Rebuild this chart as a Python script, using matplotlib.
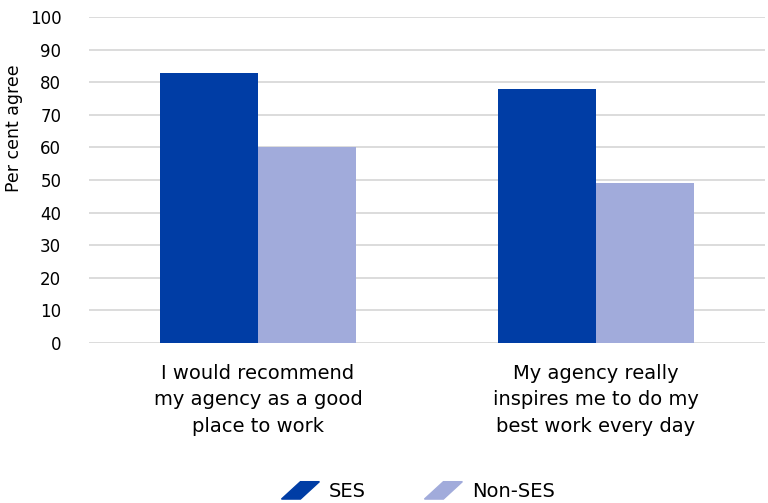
import numpy as np
import matplotlib.pyplot as plt
from matplotlib.patches import Polygon, Patch
from matplotlib.legend_handler import HandlerPatch

plt.rcParams['font.family'] = ['DejaVu Sans']

# Data
categories = ['I would recommend\nmy agency as a good\nplace to work',
              'My agency really\ninspires me to do my\nbest work every day']
ses = [83, 78]
non_ses = [60, 49]
series_names = ['SES', 'Non-SES']
colors = ['#003DA5', '#A1ABDB']


# skewed legend marker, like the original
def parallelogram(legend, orig_handle, xdescent, ydescent, width, height, fontsize):
    s = width * 0.5
    pts = [[-xdescent, -ydescent], [-xdescent + width - s, -ydescent],
           [-xdescent + width, -ydescent + height], [-xdescent + s, -ydescent + height]]
    return Polygon(pts, closed=True)


fig = plt.figure(figsize=(7.68, 5.03), dpi=100)
ax = fig.add_axes([0.116, 0.318, 0.88, 0.648])

x = np.arange(len(categories))
w = 0.29
ax.bar(x - w / 2, ses, w, color=colors[0], zorder=3)
ax.bar(x + w / 2, non_ses, w, color=colors[1], zorder=3)

ax.set_xlim(-0.5, 1.5)
ax.set_ylim(0, 100)
ax.set_yticks(np.arange(0, 101, 10))
ax.yaxis.grid(True, color='#d9d9d9', linewidth=1.3, zorder=0)
ax.set_axisbelow(True)
for sp in ax.spines.values():
    sp.set_visible(False)
ax.tick_params(axis='y', length=0, pad=20, labelsize=12)
ax.tick_params(axis='x', length=0, pad=15)
ax.set_xticks(x)
ax.set_xticklabels(categories, fontsize=14, linespacing=1.5)

ax.set_ylabel('Per cent agree', fontsize=12.5)
ax.yaxis.set_label_coords(-0.098, 0.66)

handles = [Patch(color=c, label=n) for c, n in zip(colors, series_names)]
ax.legend(handles=handles, loc='center', bbox_to_anchor=(0.487, -0.455),
          ncol=2, frameon=False, fontsize=14, handlelength=1.95, handleheight=1.0,
          columnspacing=3.0, handletextpad=0.5,
          handler_map={Patch: HandlerPatch(patch_func=parallelogram)})

fig.savefig('out.png', dpi=100)
